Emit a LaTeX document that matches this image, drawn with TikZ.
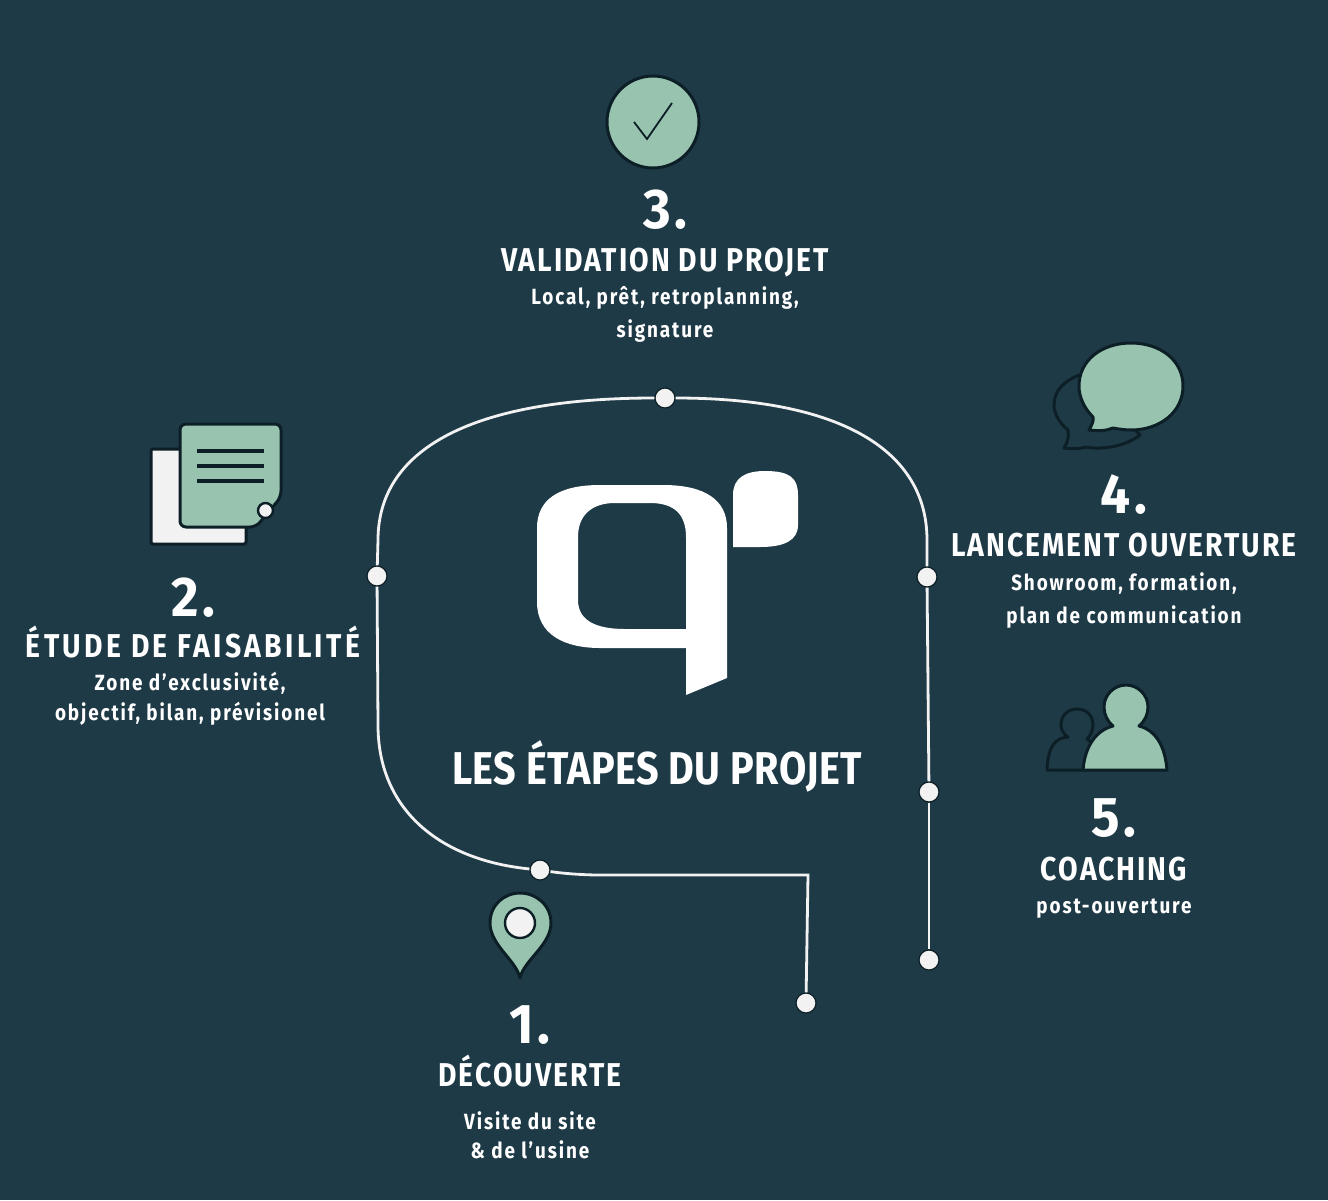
\documentclass[tikz,border=0pt]{standalone}
\usepackage{fontspec}
\setmainfont{Fira Sans}
\newfontfamily\numfont[BoldFont={Fira Sans Bold},LetterSpace=6,FakeStretch=0.95]{Fira Sans}
\newfontfamily\headfont[BoldFont={Fira Sans Bold},LetterSpace=6,FakeStretch=0.86]{Fira Sans}
\newfontfamily\wideheadfont[BoldFont={Fira Sans Bold},LetterSpace=10,FakeStretch=0.86]{Fira Sans}
\newfontfamily\subfont[BoldFont={Fira Sans Bold},LetterSpace=8.5,FakeStretch=0.86]{Fira Sans}
\newfontfamily\titlefont[BoldFont={Fira Sans Bold},LetterSpace=1,FakeStretch=0.86]{Fira Sans}
\definecolor{bgblue}{HTML}{1E3A47}
\definecolor{sage}{HTML}{98C3AF}
\definecolor{inkline}{HTML}{0D1F26}
\definecolor{paper}{HTML}{F2F2F3}
\tikzset{
  dotnode/.style={circle,draw=inkline,fill=paper,line width=1.2pt,minimum size=20pt,inner sep=0pt},
  wire/.style={draw=paper,line width=2.8pt},
  icon/.style={draw=inkline,line width=3pt,line join=round},
  numlabel/.style={anchor=base,text=white,font=\fontsize{56}{56}\selectfont\numfont\bfseries},
  headlabel/.style={anchor=base,text=white,font=\fontsize{33}{33}\selectfont\headfont\bfseries},
  wideheadlabel/.style={anchor=base,text=white,font=\fontsize{33}{33}\selectfont\wideheadfont\bfseries},
  sublabel/.style={anchor=base,text=white,align=center,font=\fontsize{22}{33}\selectfont\subfont\bfseries}
}
\begin{document}
\begin{tikzpicture}[x=1pt,y=-1pt]
    \fill[bgblue] (0,0) rectangle (1328,1200);
    \useasboundingbox (0,0) rectangle (1328,1200);
    % parcours
    \node[dotnode] (dotone) at (806,1003) {};
    \node[dotnode] (dottwo) at (540,870) {};
    \node[dotnode] (dotthree) at (377,576) {};
    \node[dotnode] (dotfour) at (665,398) {};
    \node[dotnode] (dotfive) at (927,577) {};
    \node[dotnode] (dotsix) at (929,792) {};
    \node[dotnode] (dotseven) at (929,960) {};
    \coordinate (corner) at (808,875);
    \draw[wire] (dotone) -- (corner) -- (600,875) .. controls (580,875) and (560,873) .. (dottwo);
    \draw[wire] (dottwo) .. controls (440,860) and (378,810) .. (378,725) -- (dotthree);
    \draw[wire] (dotthree) -- (378,540) .. controls (378,450) and (470,398) .. (dotfour);
    \draw[wire] (dotfour) .. controls (840,398) and (927,450) .. (927,540) -- (dotfive);
    \draw[wire] (dotfive) -- (dotsix);
    \draw[wire] (dotsix) -- (dotseven);
    % logo
    \fill[white,even odd rule] (686,695) -- (727,678) -- (727,528)
      .. controls (727,500) and (705,485) .. (663,485) -- (600,485)
      .. controls (558,485) and (537,500) .. (537,528) -- (537,602)
      .. controls (537,635) and (565,648) .. (600,648) -- (686,648) -- cycle
      (578,537) .. controls (578,515) and (592,503) .. (615,503) -- (650,503)
      .. controls (675,503) and (686,515) .. (686,537) -- (686,629) -- (625,629)
      .. controls (595,629) and (578,620) .. (578,600) -- cycle;
    \fill[white] (733,547) -- (733,495) .. controls (733,478) and (745,471) .. (765,471)
      .. controls (790,471) and (798,478) .. (798,495) -- (798,525)
      .. controls (798,540) and (785,547) .. (760,547) -- cycle;
    \node[anchor=base,text=white,font=\fontsize{46}{46}\selectfont\titlefont\bfseries] (title) at (657,784) {LES ÉTAPES DU PROJET};
    % 3
    \draw[icon,fill=sage] (653,122) circle (46);
    \draw[draw=inkline,line width=1.8pt] (634,122) -- (647,139) -- (672,103);
    \node[numlabel] (numthree) at (665,228) {3.};
    \node[headlabel] (headthree) at (665,271) {VALIDATION DU PROJET};
    \node[sublabel] (subthree) at (665,337) {Local, prêt, retroplanning,\\signature};
    % 2
    \draw[icon,fill=paper,rounded corners=2pt] (151,449) rectangle (246,544);
    \draw[icon,fill=sage,rounded corners=6pt] (180,424) -- (281,424) -- (281,497) -- (256,527) -- (180,527) -- cycle;
    \foreach \ypos in {451,466,481}
      \draw[draw=inkline,line width=3.4pt] (197,\ypos) -- (264,\ypos);
    \draw[draw=inkline,fill=paper,line width=2.4pt] (265.5,510.5) circle (7.5);
    \node[numlabel] (numtwo) at (193,616) {2.};
    \node[wideheadlabel] (headtwo) at (193,657) {ÉTUDE DE FAISABILITÉ};
    \node[sublabel] (subtwo) at (190,720) {Zone d’exclusivité,\\[-3pt]objectif, bilan, prévisionel};
    % 4
    \draw[icon] (1064,448) .. controls (1068,442) and (1069,436) .. (1068,430)
      .. controls (1058,422) and (1054,412) .. (1054,405) .. controls (1054,390) and (1065,380) .. (1082,374)
      -- (1140,435) .. controls (1125,447) and (1100,450) .. (1086,447) .. controls (1080,449) and (1072,449) .. (1064,448) -- cycle;
    \draw[icon,fill=sage] (1089,430) .. controls (1092,425) and (1094,420) .. (1093,417)
      .. controls (1084,408) and (1079,397) .. (1079,386) .. controls (1079,360) and (1102,343) .. (1131,343)
      .. controls (1160,343) and (1183,360) .. (1183,386) .. controls (1183,412) and (1160,430) .. (1131,430)
      .. controls (1125,430) and (1118,429) .. (1113,428) .. controls (1106,431) and (1098,431) .. (1089,430) -- cycle;
    \node[numlabel] (numfour) at (1124,513) {4.};
    \node[headlabel] (headfour) at (1124,556) {LANCEMENT OUVERTURE};
    \node[sublabel] (subfour) at (1124,623) {Showroom, formation,\\plan de communication};
    % 5
    \draw[icon] (1047,770) .. controls (1048,745) and (1056,738) .. (1068,737)
      .. controls (1062,733) and (1061,728) .. (1061,725) .. controls (1061,715) and (1068,709) .. (1077,709)
      .. controls (1086,709) and (1093,715) .. (1093,725) .. controls (1093,730) and (1091,735) .. (1087,739)
      -- (1095,745) -- (1090,770) -- cycle;
    \draw[icon,fill=sage] (1083,770) .. controls (1085,745) and (1097,730) .. (1113,726)
      .. controls (1107,721) and (1104,714) .. (1104,707) .. controls (1104,695) and (1114,685) .. (1126,685)
      .. controls (1138,685) and (1148,695) .. (1148,707) .. controls (1148,714) and (1145,721) .. (1139,726)
      .. controls (1155,730) and (1165,745) .. (1167,770) -- cycle;
    \node[numlabel] (numfive) at (1114,836) {5.};
    \node[headlabel] (headfive) at (1114,880) {COACHING};
    \node[sublabel] (subfive) at (1114,913) {post-ouverture};
    % 1
    \draw[icon,fill=sage] (520,978) .. controls (516,960) and (490,945) .. (490,923)
      .. controls (490,905) and (504,893) .. (520,893) .. controls (536,893) and (551,905) .. (551,923)
      .. controls (551,945) and (524,960) .. (520,978) -- cycle;
    \draw[draw=inkline,fill=paper,line width=2.4pt] (520,923) circle (15);
    \node[numlabel] (numone) at (530,1043) {1.};
    \node[headlabel] (headone) at (530,1086) {DÉCOUVERTE};
    \node[sublabel] (subone) at (530,1158) {Visite du site\\[-4pt]\& de l’usine};
\end{tikzpicture}
\end{document}
